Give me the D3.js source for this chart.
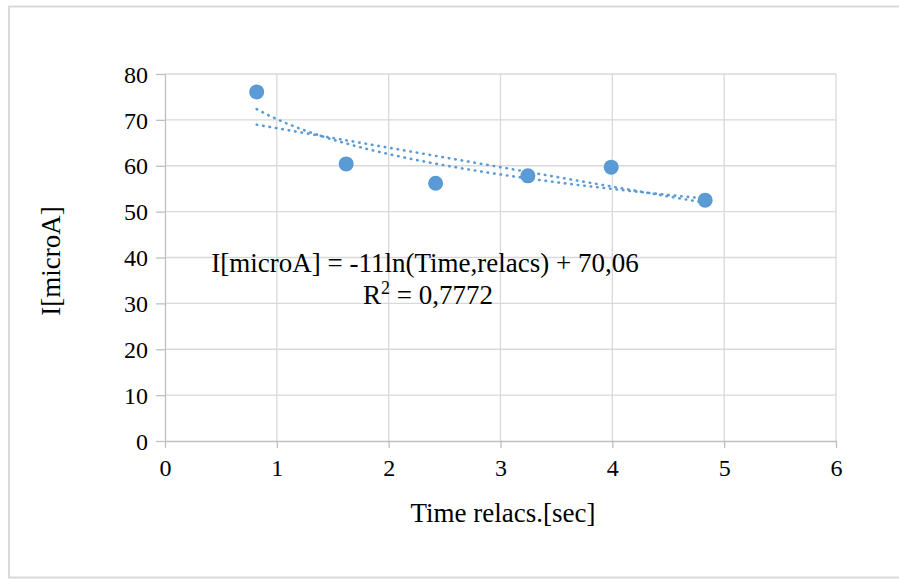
<!DOCTYPE html>
<html>
<head>
<meta charset="utf-8">
<script src="https://cdn.jsdelivr.net/npm/d3@7"></script>
<style>
  body { margin: 0; background: #fff; }
  text { font-family: "Liberation Serif", "Times New Roman", serif; fill: #000; }
</style>
</head>
<body>
<div id="chart"></div>
<script>
// data
var timeValues = [0.82, 1.62, 2.42, 3.245, 3.99, 4.83];
var currentValues = [76.1, 60.4, 56.2, 57.8, 59.7, 52.5];
var xTicks = [0, 1, 2, 3, 4, 5, 6];
var yTicks = [0, 10, 20, 30, 40, 50, 60, 70, 80];

var width = 899, height = 579;
var margin = { left: 165, right: 61, top: 74, bottom: 138 };
var serif = '"Liberation Serif", "Times New Roman", serif';

var svg = d3.select('#chart').append('svg')
    .attr('width', width)
    .attr('height', height);

// outer frame
svg.append('rect')
    .attr('x', 9).attr('y', 6.5)
    .attr('width', 900).attr('height', 571)
    .attr('fill', '#fff')
    .attr('stroke', '#d9d9d9')
    .attr('stroke-width', 2);

var x = d3.scaleLinear().domain([0, 6]).range([margin.left, width - margin.right - 2]);
var y = d3.scaleLinear().domain([0, 80]).range([height - margin.bottom, margin.top]);

// gridlines
svg.append('g').selectAll('line')
    .data(yTicks.slice(1))
    .enter().append('line')
    .attr('x1', x(0)).attr('x2', x(6))
    .attr('y1', d => y(d)).attr('y2', d => y(d))
    .attr('stroke', '#d9d9d9').attr('stroke-width', 1.3);

svg.append('g').selectAll('line')
    .data(xTicks.slice(1))
    .enter().append('line')
    .attr('x1', d => x(d)).attr('x2', d => x(d))
    .attr('y1', y(0)).attr('y2', y(80))
    .attr('stroke', '#d9d9d9').attr('stroke-width', 1.3);

// axes
var xAxis = svg.append('g')
    .attr('transform', 'translate(0,' + y(0) + ')')
    .call(d3.axisBottom(x).tickValues(xTicks).tickFormat(d3.format('d'))
      .tickSize(7).tickPadding(10).tickSizeOuter(0));
var yAxis = svg.append('g')
    .attr('transform', 'translate(' + x(0) + ',0)')
    .call(d3.axisLeft(y).tickValues(yTicks).tickFormat(d3.format('d'))
      .tickSize(9).tickPadding(8).tickSizeOuter(0));

[xAxis, yAxis].forEach(function (a) {
  a.attr('font-family', serif).attr('font-size', 24);
  a.selectAll('path, line').attr('stroke', '#bfbfbf').attr('stroke-width', 1.3);
  a.selectAll('text').attr('font-family', serif).attr('font-size', 24);
});
xAxis.selectAll('text').attr('dy', '0.75em');
yAxis.selectAll('text').attr('dy', '0.34em');

// trendlines fitted from the data
var n = timeValues.length;
function fit(xs, ys) {
  var mx = d3.mean(xs), my = d3.mean(ys);
  var sxy = d3.sum(xs, (v, i) => (v - mx) * (ys[i] - my));
  var sxx = d3.sum(xs, v => (v - mx) * (v - mx));
  var b = sxy / sxx;
  return { b: b, a: my - b * mx };
}
var lnT = timeValues.map(Math.log);
var logFit = fit(lnT, currentValues);
var linFit = fit(timeValues, currentValues);

var xs = d3.range(0, 101).map(i => timeValues[0] + (timeValues[n - 1] - timeValues[0]) * i / 100);
var line = d3.line().x(d => x(d[0])).y(d => y(d[1]));

svg.append('path')
    .datum(xs.map(t => [t, linFit.a + linFit.b * t]))
    .attr('d', line)
    .attr('fill', 'none')
    .attr('stroke', '#5b9bd5')
    .attr('stroke-width', 2.6)
    .attr('stroke-linecap', 'round')
    .attr('stroke-dasharray', '0.5,6');

svg.append('path')
    .datum(xs.map(t => [t, logFit.a + logFit.b * Math.log(t)]))
    .attr('d', line)
    .attr('fill', 'none')
    .attr('stroke', '#5b9bd5')
    .attr('stroke-width', 2.6)
    .attr('stroke-linecap', 'round')
    .attr('stroke-dasharray', '0.5,6');

// points
svg.selectAll('.pt')
    .data(timeValues)
    .enter().append('circle')
    .attr('class', 'pt')
    .attr('cx', d => x(d))
    .attr('cy', (d, i) => y(currentValues[i]))
    .attr('r', 7.5)
    .attr('fill', '#5b9bd5');

// equation label
svg.append('text')
    .attr('x', 425).attr('y', 272)
    .attr('text-anchor', 'middle')
    .style('font-size', '27px')
    .text('I[microA] = -11ln(Time,relacs) + 70,06');

var r2 = svg.append('text')
    .attr('x', 428).attr('y', 304)
    .attr('text-anchor', 'middle')
    .style('font-size', '27px');
r2.append('tspan').text('R');
r2.append('tspan').attr('dy', -10).style('font-size', '18px').text('2');
r2.append('tspan').attr('dy', 10).text(' = 0,7772');

// axis titles
svg.append('text')
    .attr('x', 503).attr('y', 522)
    .attr('text-anchor', 'middle')
    .style('font-size', '27px')
    .text('Time relacs.[sec]');

svg.append('text')
    .attr('transform', 'translate(60,261) rotate(-90)')
    .attr('text-anchor', 'middle')
    .style('font-size', '27px')
    .text('I[microA]');
</script>
</body>
</html>
